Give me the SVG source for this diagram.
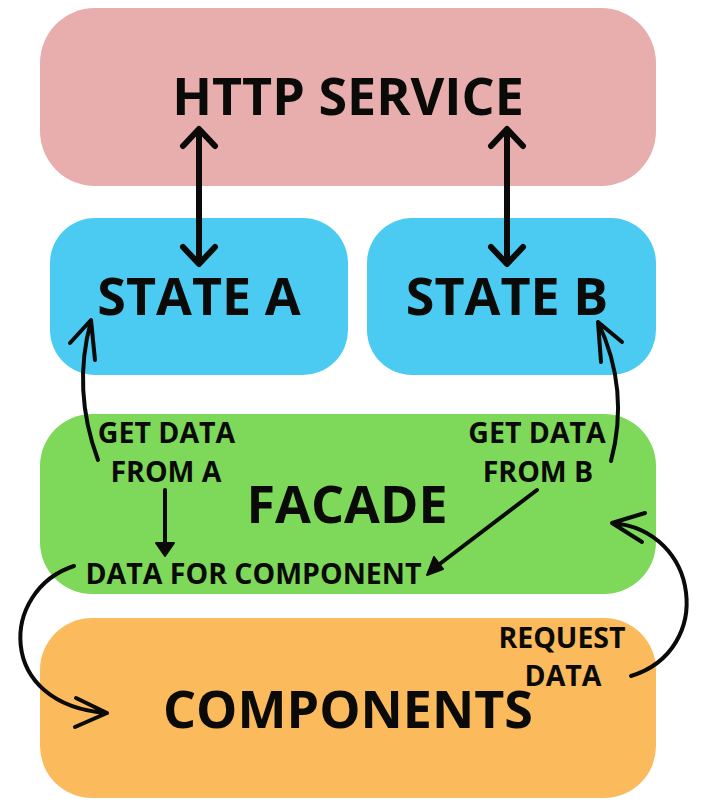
<svg xmlns="http://www.w3.org/2000/svg" width="708" height="807" viewBox="0 0 708 807">
<defs>
<style>
.big{font-family:"Open Sans","Liberation Sans",sans-serif;font-weight:700;fill:#0a0a08;text-anchor:middle}
.small{font-family:"Open Sans","Liberation Sans",sans-serif;font-weight:700;fill:#0a0a08;text-anchor:middle;font-size:28.5px}
.ln{fill:none;stroke:#0a0a08;stroke-width:4;stroke-linecap:round;stroke-linejoin:round}
.thick{fill:none;stroke:#0a0a08;stroke-width:6;stroke-linecap:round;stroke-linejoin:round}
</style>
</defs>
<rect width="708" height="807" fill="#ffffff"/>
<g id="http">
<rect x="40" y="8" width="616" height="178" rx="55" fill="#E8AEAE"/>
<text class="big" x="348" y="115" font-size="52">HTTP SERVICE</text>
</g>
<g id="stateA">
<rect x="50" y="218" width="298" height="157" rx="45" fill="#4BCBF2"/>
<text class="big" x="199" y="315" font-size="52">STATE A</text>
</g>
<g id="stateB">
<rect x="367" y="218" width="289" height="157" rx="45" fill="#4BCBF2"/>
<text class="big" x="507" y="315" font-size="52">STATE B</text>
</g>
<g id="facade">
<rect x="40" y="414" width="616" height="180" rx="52" fill="#7ED85A"/>
<text class="big" x="347" y="523" font-size="52">FACADE</text>
<text class="small" x="166.5" y="443">GET DATA</text>
<text class="small" x="166" y="482">FROM A</text>
<text class="small" x="537" y="443">GET DATA</text>
<text class="small" x="538" y="482">FROM B</text>
<text class="small" x="253.5" y="584">DATA FOR COMPONENT</text>
</g>
<g id="components">
<rect x="40" y="618" width="616" height="180" rx="52" fill="#FBBA5B"/>
<text class="big" x="348" y="728" font-size="52">COMPONENTS</text>
<text class="small" x="562" y="648">REQUEST</text>
<text class="small" x="563" y="686">DATA</text>
</g>
<g id="connectors">
<path class="thick" d="M199 130 V263 M183 146 L199 129 L215 146 M183 247 L199 264 L215 247"/>
<path class="thick" d="M507 130 V263 M491 146 L507 129 L523 146 M491 247 L507 264 L523 247"/>
<path class="ln" d="M98 460 Q72 390 91 321 M70 343 L91 320 L95 360"/>
<path class="ln" d="M611 461 Q630 390 598 322 M622 342 L598 322 L601 362"/>
<path class="ln" d="M165 490 V545"/>
<path d="M156 543 L174 543 L165 556 Z" fill="#0a0a08" stroke="#0a0a08" stroke-width="2" stroke-linejoin="round"/>
<path class="ln" d="M537 490 L437 566"/>
<path d="M427 575 L434 557 L443 569 Z" fill="#0a0a08" stroke="#0a0a08" stroke-width="2" stroke-linejoin="round"/>
<path class="ln" d="M74 566 C0 590 -5 705 107 713 M76 698 L107 713 L75 727"/>
<path class="ln" d="M631 676 C715 650 700 530 612 523 M645 513 L612 523 L642 542"/>
</g>
</svg>
